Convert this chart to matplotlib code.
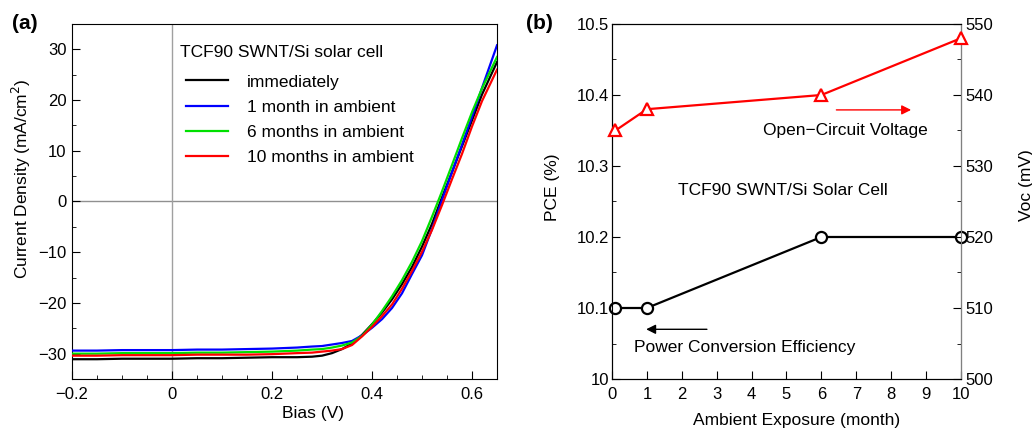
import matplotlib
matplotlib.use("Agg")
import matplotlib.pyplot as plt
from matplotlib.ticker import MultipleLocator

plt.rcParams['font.family'] = ['Liberation Sans', 'DejaVu Sans']
plt.rcParams['font.size'] = 12

TXT = 12.5   # size for labels and annotations
TICK = 12    # size for tick labels

# ---- (a) J-V curves ----
bias = [-0.20, -0.15, -0.10, -0.05, 0.00, 0.05, 0.10, 0.15, 0.20, 0.25, 0.28,
        0.30, 0.32, 0.34, 0.36, 0.38, 0.40, 0.42, 0.44, 0.46, 0.48, 0.50,
        0.52, 0.54, 0.56, 0.58, 0.60, 0.62, 0.65]
j_immediately = [-31.1, -31.1, -31.0, -31.0, -31.0, -30.9, -30.9, -30.8, -30.7, -30.7, -30.6,
                 -30.4, -29.9, -29.1, -28.0, -26.3, -24.2, -21.9, -19.3, -16.3, -12.9, -8.9,
                 -4.4, 0.8, 5.8, 10.9, 16.0, 21.1, 27.5]
j_1month = [-29.4, -29.4, -29.3, -29.3, -29.3, -29.2, -29.2, -29.1, -29.0, -28.8, -28.6,
            -28.5, -28.2, -27.9, -27.5, -26.4, -24.9, -23.2, -21.0, -18.1, -14.3, -10.6,
            -5.4, 0.3, 5.8, 11.2, 16.7, 22.4, 30.8]
j_6months = [-30.0, -30.0, -29.9, -29.9, -29.9, -29.8, -29.8, -29.7, -29.6, -29.4, -29.2,
             -29.1, -28.8, -28.4, -27.8, -26.5, -24.3, -21.6, -18.7, -15.5, -11.9, -7.8,
             -3.0, 2.0, 7.2, 12.5, 17.6, 22.3, 28.5]
j_10months = [-30.4, -30.4, -30.3, -30.3, -30.3, -30.2, -30.2, -30.2, -30.1, -29.9, -29.8,
              -29.6, -29.4, -29.1, -28.3, -26.6, -24.7, -22.6, -20.3, -17.2, -13.7, -9.9,
              -5.6, -0.7, 4.4, 9.4, 14.8, 19.8, 26.0]
jv_labels = ['immediately', '1 month in ambient', '6 months in ambient', '10 months in ambient']
jv_colors = ['#000000', '#0000ff', '#00e000', '#ff0000']
bias_ticks = [-0.2, 0, 0.2, 0.4, 0.6]
bias_ticklabels = ['\u22120.2', '0', '0.2', '0.4', '0.6']
j_ticks = [-30, -20, -10, 0, 10, 20, 30]
j_ticklabels = ['\u221230', '\u221220', '\u221210', '0', '10', '20', '30']

# ---- (b) PCE and Voc vs exposure ----
months = [0.1, 1, 6, 10]
pce = [10.1, 10.1, 10.2, 10.2]
voc = [535, 538, 540, 548]
pce_ticks = [10.0, 10.1, 10.2, 10.3, 10.4, 10.5]
pce_ticklabels = ['10', '10.1', '10.2', '10.3', '10.4', '10.5']


def style_ticks(ax, pad):
    ax.tick_params(which='both', direction='in', labelsize=TICK, pad=pad)
    ax.tick_params(which='major', length=6)
    ax.tick_params(which='minor', length=3)


fig = plt.figure(figsize=(10.32, 4.30), dpi=100)

# panel (a)
ax1 = fig.add_axes([0.0698, 0.1186, 0.4118, 0.8256])
ax1.axhline(0, color='#909090', lw=1.0, zorder=1)
ax1.axvline(0, color='#a0a0a0', lw=1.0, zorder=1)
for j, lab, col in zip([j_immediately, j_1month, j_6months, j_10months], jv_labels, jv_colors):
    ax1.plot(bias, j, color=col, lw=1.6, label=lab, zorder=3)
ax1.set_xlim(-0.2, 0.65)
ax1.set_ylim(-35, 35)
ax1.set_xticks(bias_ticks)
ax1.set_xticklabels(bias_ticklabels)
ax1.xaxis.set_minor_locator(MultipleLocator(0.05))
ax1.set_yticks(j_ticks)
ax1.set_yticklabels(j_ticklabels)
ax1.yaxis.set_minor_locator(MultipleLocator(5))
style_ticks(ax1, 4)
ax1.tick_params(axis='x', pad=6)
ax1.tick_params(which='both', top=False, right=False)
ax1.set_xlabel('Bias (V)', fontsize=TXT, labelpad=2.5)
ax1.set_ylabel('Current Density (mA/cm$^2$)', fontsize=TXT, labelpad=4)
ax1.xaxis.label.set_x(0.566)
ax1.yaxis.label.set_y(0.563)
ax1.text(0.254, 0.921, 'TCF90 SWNT/Si solar cell', transform=ax1.transAxes,
         ha='left', va='center', fontsize=TXT)
ax1.legend(loc='upper left', bbox_to_anchor=(0.268, 0.858), frameon=False,
           fontsize=TXT, handlelength=2.45, handletextpad=1.05,
           labelspacing=0.575, borderpad=0, borderaxespad=0)
fig.text(0.012, 0.945, '(a)', fontsize=15, fontweight='bold', va='center')

# panel (b), left axis: PCE
ax2 = fig.add_axes([0.593, 0.1186, 0.3382, 0.8256])
ax2.plot(months, pce, color='black', lw=1.6, marker='o', ms=8, mfc='white',
         mec='black', mew=1.6, zorder=3, clip_on=False)
ax2.set_xlim(0, 10)
ax2.set_ylim(10.0, 10.5)
ax2.xaxis.set_major_locator(MultipleLocator(1))
ax2.set_yticks(pce_ticks)
ax2.set_yticklabels(pce_ticklabels)
ax2.yaxis.set_minor_locator(MultipleLocator(0.05))
style_ticks(ax2, 2)
ax2.tick_params(axis='x', pad=6)
ax2.tick_params(which='both', top=False, right=False)
ax2.set_xlabel('Ambient Exposure (month)', fontsize=TXT, labelpad=8)
ax2.set_ylabel('PCE (%)', fontsize=TXT, labelpad=12)
ax2.xaxis.label.set_x(0.529)
ax2.yaxis.label.set_y(0.541)

# panel (b), right axis: Voc
ax3 = ax2.twinx()
ax3.plot(months, voc, color='#ff0000', lw=1.6, marker='^', ms=8, mfc='white',
         mec='#ff0000', mew=1.6, zorder=3, clip_on=False)
ax3.set_ylim(500, 550)
ax3.yaxis.set_major_locator(MultipleLocator(10))
ax3.yaxis.set_minor_locator(MultipleLocator(5))
style_ticks(ax3, 3.5)
ax3.spines['right'].set_color('#808080')
ax3.set_ylabel('Voc (mV)', fontsize=TXT, labelpad=18)
ax3.yaxis.label.set_y(0.546)

ax3.annotate('', xy=(8.65, 537.9), xytext=(6.35, 537.9),
             arrowprops=dict(arrowstyle='-|>', color='#ff0000', lw=1.0, mutation_scale=14))
ax3.text(6.7, 535.0, 'Open\u2212Circuit Voltage', ha='center', va='center', fontsize=TXT)
ax2.annotate('', xy=(0.9, 10.07), xytext=(2.8, 10.07),
             arrowprops=dict(arrowstyle='-|>', color='black', lw=1.0, mutation_scale=14))
ax2.text(3.8, 10.044, 'Power Conversion Efficiency', ha='center', va='center', fontsize=TXT)
ax2.text(4.9, 10.265, 'TCF90 SWNT/Si Solar Cell', ha='center', va='center', fontsize=TXT)
fig.text(0.510, 0.945, '(b)', fontsize=15, fontweight='bold', va='center')

fig.savefig('out.png', dpi=100)
